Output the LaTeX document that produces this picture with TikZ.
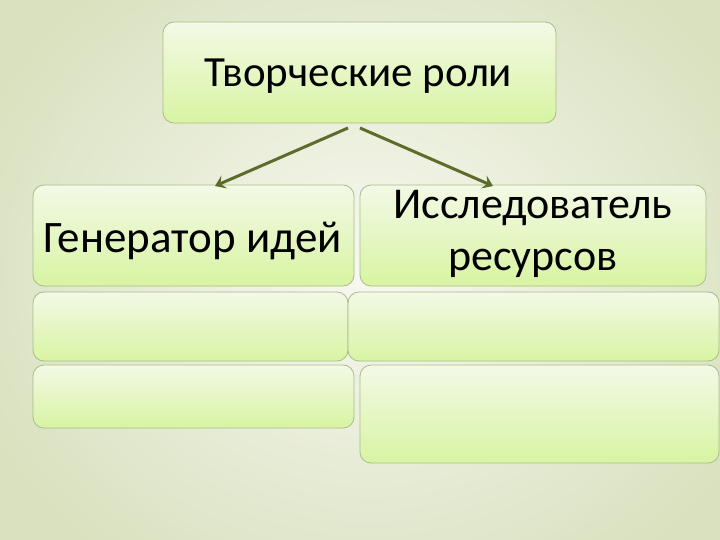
\documentclass[tikz,border=0pt]{standalone}
\usepackage{fontspec}
\setmainfont{Carlito}
\usetikzlibrary{arrows.meta}
\definecolor{bgin}{HTML}{F7F8F0}
\definecolor{bgout}{HTML}{D9E1BF}
\definecolor{boxtop}{HTML}{F3F9E6}
\definecolor{boxbot}{HTML}{D8F4A2}
\definecolor{boxline}{HTML}{A9BC8A}
\definecolor{arr}{HTML}{5E6B2A}
\tikzset{
  box/.style={draw=boxline, line width=0.8pt, rounded corners=11pt, top color=boxtop, bottom color=boxbot},
  lbl/.style={align=center, text=black, inner sep=0pt, anchor=base},
  conn/.style={draw=arr, line width=3pt, -{Stealth[length=10pt,width=14pt,inset=4pt]}}
}
\begin{document}
\begin{tikzpicture}[x=1pt,y=-1pt]
\useasboundingbox (0,0) rectangle (720,540);
\shade[inner color=bgin, outer color=bgout] (-60,-100) rectangle (800,640);
% boxes
\path[box] (163,22) rectangle (556,123);
\node[lbl, font=\fontsize{43}{50}\selectfont] (top) at (358.5,87) {Творческие роли};
\path[box] (33,185) rectangle (354,286);
\node[lbl, font=\fontsize{45}{52}\selectfont] (gen) at (192.5,252) {Генератор идей};
\path[box] (360,185) rectangle (706,286);
\node[lbl, font=\fontsize{44}{52}\selectfont] (iss) at (533,270) {Исследователь\\ресурсов};
\path[box] (33,292) rectangle (348,361);
\path[box] (348,292) rectangle (719,361);
\path[box] (33,365) rectangle (354,428);
\path[box] (360,365) rectangle (719,463);
\coordinate (a1) at (348,128);
\coordinate (a2) at (215,186);
\coordinate (b1) at (360,128);
\coordinate (b2) at (493,186);
\draw[conn] (a1) -- (a2);
\draw[conn] (b1) -- (b2);
\end{tikzpicture}
\end{document}
